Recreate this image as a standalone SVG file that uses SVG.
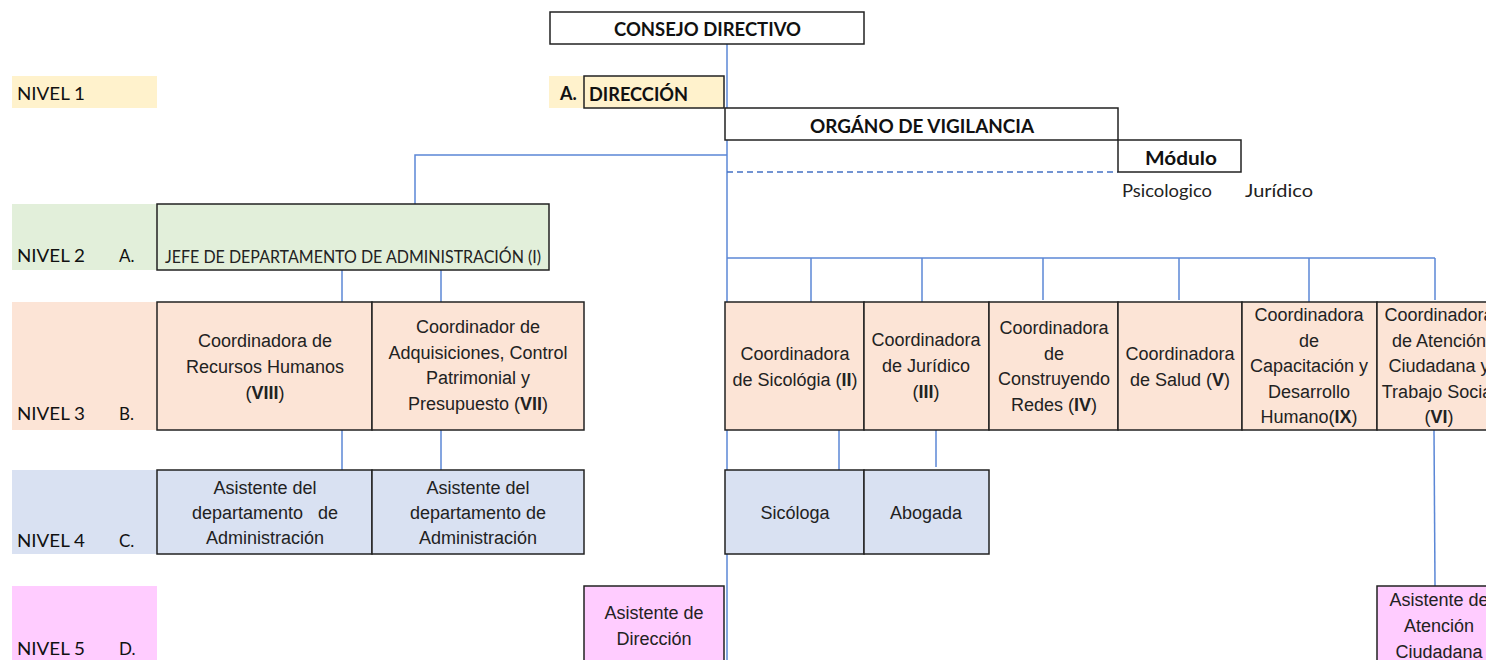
<svg xmlns="http://www.w3.org/2000/svg" width="1486" height="660" viewBox="0 0 1486 660">
<style>
.box{stroke:#222;stroke-width:1.5}
.y{fill:#FFF2CC}.g{fill:#E2EFDA}.o{fill:#FCE4D6}.b{fill:#D9E1F2}.p{fill:#FFCCFF}.w{fill:#fff}
.band{stroke:none}
.hd{font-family:Lato,"Liberation Sans",sans-serif;font-weight:bold;font-size:18px;fill:#111}
.lv{font-family:Lato,"Liberation Sans",sans-serif;font-size:17px;fill:#111}
.t{font-family:"Liberation Sans",Arial,sans-serif;font-size:18px;fill:#222;text-anchor:middle}
.sm{font-family:Lato,"Liberation Sans",sans-serif;font-size:17px;fill:#222}
.ln{stroke:#5B87D6;stroke-width:1.5;fill:none}
.dash{stroke:#4472C4;stroke-width:1.5;fill:none;stroke-dasharray:6 4}
</style>
<g id="bands">
<rect class="band y" x="12" y="76" width="145" height="32"/>
<rect class="band g" x="12" y="204" width="145" height="66"/>
<rect class="band o" x="12" y="302" width="145" height="128"/>
<rect class="band b" x="12" y="470" width="145" height="84"/>
<rect class="band p" x="12" y="586" width="145" height="74"/>
<rect class="band y" x="549" y="76" width="35" height="32"/>
<text class="lv" x="17" y="100" textLength="68" lengthAdjust="spacingAndGlyphs">NIVEL 1</text>
<text class="lv" x="17" y="262" textLength="68" lengthAdjust="spacingAndGlyphs">NIVEL 2</text>
<text class="lv" x="119" y="262">A.</text>
<text class="lv" x="17" y="420" textLength="68" lengthAdjust="spacingAndGlyphs">NIVEL 3</text>
<text class="lv" x="119" y="420">B.</text>
<text class="lv" x="17" y="547" textLength="68" lengthAdjust="spacingAndGlyphs">NIVEL 4</text>
<text class="lv" x="119" y="547">C.</text>
<text class="lv" x="17" y="655" textLength="68" lengthAdjust="spacingAndGlyphs">NIVEL 5</text>
<text class="lv" x="119" y="655">D.</text>
<text class="hd" x="560" y="100">A.</text>
</g>
<g id="connectors">
<line class="ln" x1="727" y1="44" x2="727" y2="660"/>
<polyline class="ln" points="727,155 415,155 415,204"/>
<line class="dash" x1="727" y1="172" x2="1118" y2="172"/>
<line class="ln" x1="342" y1="270" x2="342" y2="302"/>
<line class="ln" x1="441" y1="270" x2="441" y2="302"/>
<line class="ln" x1="342" y1="430" x2="342" y2="470"/>
<line class="ln" x1="441" y1="430" x2="441" y2="470"/>
<line class="ln" x1="727" y1="258" x2="1435" y2="258"/>
<line class="ln" x1="811" y1="258" x2="811" y2="302"/>
<line class="ln" x1="922" y1="258" x2="922" y2="302"/>
<line class="ln" x1="1043" y1="258" x2="1043" y2="300"/>
<line class="ln" x1="1179" y1="258" x2="1179" y2="300"/>
<line class="ln" x1="1309" y1="258" x2="1309" y2="302"/>
<line class="ln" x1="1435" y1="258" x2="1435" y2="300"/>
<line class="ln" x1="839" y1="430" x2="839" y2="470"/>
<line class="ln" x1="936" y1="430" x2="936" y2="467"/>
<line class="ln" x1="1434" y1="430" x2="1435" y2="586"/>
</g>
<g id="consejo">
<rect class="box w" x="550" y="12" width="314" height="32"/>
<text class="hd" x="614" y="36" textLength="187" lengthAdjust="spacingAndGlyphs">CONSEJO DIRECTIVO</text>
</g>
<g id="direccion">
<rect class="box y" x="584" y="76" width="140" height="32"/>
<text class="hd" x="589" y="101" textLength="99" lengthAdjust="spacingAndGlyphs">DIRECCIÓN</text>
</g>
<g id="vigilancia">
<rect class="box w" x="725" y="108" width="393" height="32"/>
<text class="hd" x="810" y="133" textLength="224" lengthAdjust="spacingAndGlyphs">ORGÁNO DE VIGILANCIA</text>
</g>
<g id="modulo">
<rect class="box w" x="1118" y="140" width="123" height="32"/>
<text class="hd" x="1145" y="165" textLength="72" lengthAdjust="spacingAndGlyphs">Módulo</text>
<text class="sm" x="1122" y="197" textLength="90" lengthAdjust="spacingAndGlyphs">Psicologico</text>
<text class="sm" x="1245" y="197" textLength="68" lengthAdjust="spacingAndGlyphs">Jurídico</text>
</g>
<g id="jefe">
<rect class="box g" x="157" y="204" width="392" height="66"/>
<text class="sm" x="165" y="263" font-size="15" textLength="376" lengthAdjust="spacingAndGlyphs">JEFE DE DEPARTAMENTO DE ADMINISTRACIÓN (I)</text>
</g>
<g id="rrhh">
<rect class="box o" x="157" y="302" width="215" height="128"/>
<text class="t" x="265" y="347">Coordinadora de</text>
<text class="t" x="265" y="373">Recursos Humanos</text>
<text class="t" x="265" y="399">(<tspan font-weight="bold">VIII</tspan>)</text>
</g>
<g id="adquisiciones">
<rect class="box o" x="372" y="302" width="212" height="128"/>
<text class="t" x="478" y="333">Coordinador de</text>
<text class="t" x="478" y="359">Adquisiciones, Control</text>
<text class="t" x="478" y="384">Patrimonial y</text>
<text class="t" x="478" y="410">Presupuesto (<tspan font-weight="bold">VII</tspan>)</text>
</g>
<g id="asist1">
<rect class="box b" x="157" y="470" width="215" height="84"/>
<text class="t" x="265" y="494">Asistente del</text>
<text class="t" x="265" y="519" xml:space="preserve">departamento   de</text>
<text class="t" x="265" y="544">Administración</text>
</g>
<g id="asist2">
<rect class="box b" x="372" y="470" width="212" height="84"/>
<text class="t" x="478" y="494">Asistente del</text>
<text class="t" x="478" y="519">departamento de</text>
<text class="t" x="478" y="544">Administración</text>
</g>
<g id="asistdir">
<rect class="box p" x="584" y="586" width="140" height="80"/>
<text class="t" x="654" y="619">Asistente de</text>
<text class="t" x="654" y="645">Dirección</text>
</g>
<g id="sicologia">
<rect class="box o" x="725" y="302" width="139" height="128"/>
<text class="t" x="795" y="360">Coordinadora</text>
<text class="t" x="795" y="386">de Sicológia (<tspan font-weight="bold">II</tspan>)</text>
</g>
<g id="juridico">
<rect class="box o" x="864" y="302" width="125" height="128"/>
<text class="t" x="926" y="346">Coordinadora</text>
<text class="t" x="926" y="372">de Jurídico</text>
<text class="t" x="926" y="398">(<tspan font-weight="bold">III</tspan>)</text>
</g>
<g id="redes">
<rect class="box o" x="989" y="302" width="129" height="128"/>
<text class="t" x="1054" y="334">Coordinadora</text>
<text class="t" x="1054" y="360">de</text>
<text class="t" x="1054" y="385">Construyendo</text>
<text class="t" x="1054" y="411">Redes (<tspan font-weight="bold">IV</tspan>)</text>
</g>
<g id="salud">
<rect class="box o" x="1118" y="302" width="124" height="128"/>
<text class="t" x="1180" y="360">Coordinadora</text>
<text class="t" x="1180" y="386">de Salud (<tspan font-weight="bold">V</tspan>)</text>
</g>
<g id="capacitacion">
<rect class="box o" x="1242" y="302" width="135" height="128"/>
<text class="t" x="1309" y="321">Coordinadora</text>
<text class="t" x="1309" y="347">de</text>
<text class="t" x="1309" y="372">Capacitación y</text>
<text class="t" x="1309" y="398">Desarrollo</text>
<text class="t" x="1309" y="423">Humano(<tspan font-weight="bold">IX</tspan>)</text>
</g>
<g id="atencion">
<rect class="box o" x="1377" y="302" width="120" height="128"/>
<text class="t" x="1439" y="321">Coordinadora</text>
<text class="t" x="1439" y="347">de Atención</text>
<text class="t" x="1439" y="372">Ciudadana y</text>
<text class="t" x="1439" y="398">Trabajo Social</text>
<text class="t" x="1439" y="423">(<tspan font-weight="bold">VI</tspan>)</text>
</g>
<g id="sicologa">
<rect class="box b" x="725" y="470" width="139" height="84"/>
<text class="t" x="795" y="519">Sicóloga</text>
</g>
<g id="abogada">
<rect class="box b" x="864" y="470" width="125" height="84"/>
<text class="t" x="926" y="519">Abogada</text>
</g>
<g id="asistatencion">
<rect class="box p" x="1377" y="586" width="120" height="80"/>
<text class="t" x="1439" y="606">Asistente de</text>
<text class="t" x="1439" y="632">Atención</text>
<text class="t" x="1439" y="658">Ciudadana</text>
</g>
</svg>
